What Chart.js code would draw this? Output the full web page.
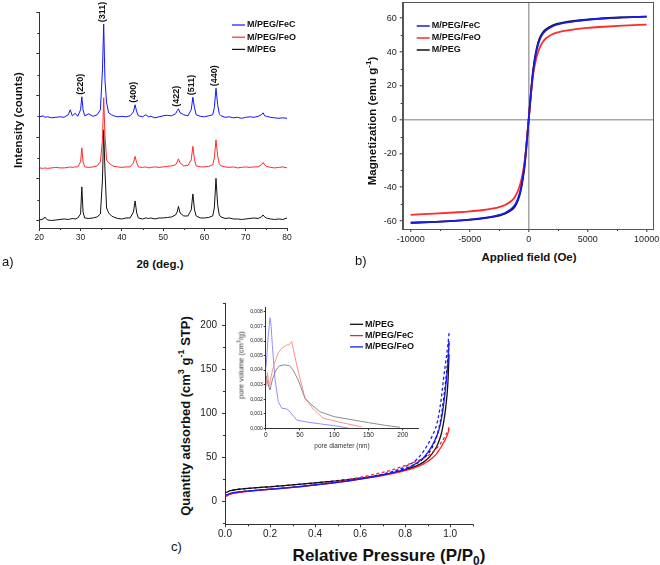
<!DOCTYPE html>
<html lang="en">
<head>
<meta charset="UTF-8" />
<title>XRD, VSM and N2 isotherms</title>
<script src="https://cdn.jsdelivr.net/npm/chart.js@4.4.1/dist/chart.umd.min.js"></script>
<style>
  body { margin: 0; background: #fff; font-family: "Liberation Sans", Arial, sans-serif; }
  #page { position: relative; width: 660px; height: 565px; overflow: hidden; background: #fff; }
  canvas { position: absolute; }
  .t { position: absolute; white-space: nowrap; font-weight: bold; color: #111; transform: translate(-50%, -50%); }
  .rot { transform: translate(-50%, -50%) rotate(-90deg); }
  .thin { font-weight: normal; color: #333; }
  .tag { position: absolute; font-size: 13px; color: #111; }
  sup, sub { font-size: 70%; line-height: 0; }
</style>
</head>
<body>
<div id="page">
  <canvas id="xrd" width="300" height="250" style="left:0;top:0"></canvas>
  <canvas id="vsm" width="330" height="250" style="left:330px;top:0"></canvas>
  <canvas id="pore" width="185" height="152" style="left:240px;top:300px;z-index:1"></canvas>
  <canvas id="bet" width="320" height="260" style="left:170px;top:290px;z-index:2"></canvas>

  <!-- axis titles / panel tags -->
  <div class="t rot" style="left:18px;top:120px;font-size:11.5px">Intensity (counts)</div>
  <div class="t" style="left:160px;top:264px;font-size:11.5px">2&theta; (deg.)</div>
  <div class="tag" style="left:2px;top:254px">a)</div>

  <div class="t rot" style="left:372px;top:121px;font-size:11.5px">Magnetization (emu g<sup>-1</sup>)</div>
  <div class="t" style="left:529px;top:257px;font-size:11.5px">Applied field (Oe)</div>
  <div class="tag" style="left:355px;top:253px">b)</div>

  <div class="t rot" style="left:185px;top:416px;font-size:13px">Quantity adsorbed (cm<sup>3</sup> g<sup>-1</sup> STP)</div>
  <div class="t" style="left:389px;top:556px;font-size:17px">Relative Pressure (P/P<sub>0</sub>)</div>
  <div class="tag" style="left:171px;top:539px">c)</div>

  <div class="t rot thin" style="left:241px;top:365px;font-size:7.5px;z-index:3">pore volume (cm<sup>3</sup>/g)</div>
  <div class="t thin" style="left:342px;top:445px;font-size:6.5px;z-index:3">pore diameter (nm)</div>
</div>

<script>
  // ---------- a) XRD patterns ----------
  const twoTheta = [20, 21, 21.3, 22, 23, 24, 25, 26, 27, 27.5, 28, 28.7, 29.3, 30, 30.3, 30.6, 31, 32, 33, 34,
    34.8, 35.3, 35.6, 35.9, 36.3, 36.8, 37.5, 38, 39, 40, 41, 42, 42.8, 43.2, 43.6, 44, 45, 45.8, 46.5, 47,
    48, 49, 50, 51, 52, 53, 53.4, 53.7, 54.1, 55, 56, 56.8, 57.2, 57.6, 58, 59, 60, 61, 62, 62.4,
    62.8, 63.2, 63.6, 64, 65, 66, 67, 68, 69, 70, 71, 72, 73, 73.8, 74.2, 74.6, 75, 76, 77, 78, 79, 80];
  const xrdFeC = [3489, 3513, 3477, 3489, 3465, 3477, 3489, 3477, 3537, 3657, 3513, 3573, 3501, 3657, 3969, 3657, 3513, 3561, 3501, 3537,
    3657, 4617, 5709, 4377, 3825, 3585, 3537, 3513, 3489, 3501, 3489, 3513, 3609, 3777, 3609, 3513, 3489, 3537, 3489, 3501,
    3465, 3489, 3513, 3525, 3513, 3561, 3633, 3681, 3585, 3537, 3513, 3657, 3957, 3705, 3537, 3501, 3489, 3513, 3537, 3705,
    4173, 3777, 3561, 3513, 3477, 3489, 3465, 3477, 3453, 3477, 3489, 3477, 3501, 3537, 3585, 3513, 3501, 3477, 3465, 3453, 3465, 3453];
  const xrdFeO = [2265, 2253, 2265, 2253, 2265, 2277, 2265, 2265, 2277, 2289, 2277, 2289, 2289, 2409, 2745, 2409, 2289, 2277, 2289, 2313,
    2409, 2937, 3945, 3057, 2457, 2385, 2337, 2301, 2289, 2277, 2289, 2289, 2385, 2541, 2385, 2289, 2277, 2289, 2265, 2277,
    2289, 2277, 2289, 2301, 2313, 2337, 2409, 2481, 2385, 2313, 2325, 2457, 2781, 2457, 2313, 2289, 2289, 2301, 2337, 2505,
    2937, 2553, 2361, 2313, 2289, 2277, 2289, 2265, 2277, 2289, 2277, 2289, 2289, 2337, 2397, 2337, 2301, 2277, 2265, 2277, 2289, 2265];
  const xrdPEG = [1017, 1041, 1089, 1017, 1005, 1017, 1029, 1041, 1029, 1041, 1053, 1041, 1065, 1161, 1809, 1209, 1065, 1053, 1065, 1089,
    1161, 1977, 3177, 2217, 1305, 1185, 1113, 1089, 1053, 1041, 1065, 1065, 1209, 1473, 1185, 1065, 1041, 1065, 1053, 1065,
    1041, 1065, 1065, 1077, 1089, 1137, 1209, 1341, 1185, 1113, 1113, 1257, 1641, 1257, 1113, 1065, 1065, 1077, 1113, 1305,
    2013, 1377, 1137, 1089, 1053, 1065, 1041, 1041, 1029, 1041, 1053, 1065, 1053, 1089, 1137, 1089, 1065, 1041, 1029, 1041, 1029, 1065];
  const peakPos = [30.3, 35.6, 43.2, 53.7, 57.2, 62.8];
  const peakLabels = ['(220)', '(311)', '(400)', '(422)', '(511)', '(440)'];
  const xrdNames = ['M/PEG/FeC', 'M/PEG/FeO', 'M/PEG'];
  const xrdColors = ['#1414ff', '#ff2a2a', '#111111'];
  const xrdXTicks = [20, 30, 40, 50, 60, 70, 80];
  const xrdYTicks = [1000, 2000, 3000, 4000, 5000, 6000];

  // ---------- b) magnetization ----------
  const field = [-10000, -8000, -6000, -5000, -4000, -3000, -2500, -2000, -1500, -1200, -1000, -800, -600, -400, -300, -200, -100,
    0, 100, 200, 300, 400, 600, 800, 1000, 1200, 1500, 2000, 2500, 3000, 4000, 5000, 6000, 8000, 10000];
  const magFeC = [-61.0, -60.5, -59.7, -59.1, -58.3, -57.2, -56.4, -55.2, -53.0, -50.8, -48.3, -44.5, -38.5, -29.5, -23.5, -16.0, -8.0,
    0, 8.0, 16.0, 23.5, 29.5, 38.5, 44.5, 48.3, 50.8, 53.0, 55.2, 56.4, 57.2, 58.3, 59.1, 59.7, 60.5, 61.0];
  const magFeO = [-56.3, -55.6, -54.8, -54.3, -53.6, -52.5, -51.7, -50.5, -48.3, -46.0, -43.5, -40.0, -35.0, -27.5, -22.0, -15.0, -7.5,
    0, 7.5, 15.0, 22.0, 27.5, 35.0, 40.0, 43.5, 46.0, 48.3, 50.5, 51.7, 52.5, 53.6, 54.3, 54.8, 55.6, 56.2];
  const magPEG = [-61.0, -60.5, -59.8, -59.2, -58.5, -57.5, -56.8, -55.7, -53.7, -51.6, -49.2, -45.5, -39.5, -30.5, -24.5, -17.0, -8.5,
    0, 8.5, 17.0, 24.5, 30.5, 39.5, 45.5, 49.2, 51.6, 53.7, 55.7, 56.8, 57.5, 58.5, 59.2, 59.8, 60.5, 61.0];
  const magNames = ['M/PEG/FeC', 'M/PEG/FeO', 'M/PEG'];
  const magColors = ['#1a1ae6', '#ff2a2a', '#111111'];
  const vsmXTicks = [-10000, -5000, 0, 5000, 10000];
  const vsmYTicks = [-60, -40, -20, 0, 20, 40, 60];

  // ---------- c) N2 isotherms (solid = adsorption, dashed = desorption) ----------
  const pAds = [0.005, 0.02, 0.05, 0.1, 0.15, 0.2, 0.3, 0.4, 0.5, 0.6, 0.7, 0.75, 0.8, 0.85, 0.88, 0.9, 0.92, 0.94, 0.95, 0.96, 0.97, 0.98, 0.99, 0.995];
  const adsPEG = [9.5, 11.5, 13, 14.3, 15.3, 16.2, 18.3, 20.6, 23, 25.8, 29.8, 32.2, 35.5, 40, 44, 48, 54, 62, 68, 76, 88, 106, 135, 167];
  const adsFeC = [5, 7.5, 9.3, 11, 12.2, 13.3, 15.5, 18.2, 21.2, 24.8, 29, 31.5, 34.5, 38.5, 42, 45, 49, 54, 57.5, 61.5, 66, 71, 77, 82];
  const adsFeO = [6.5, 8.5, 10, 11.3, 12.4, 13.4, 15.6, 18.3, 21.3, 25, 29.5, 32.5, 36, 43, 49, 55, 63, 74, 81, 92, 108, 130, 158, 182];
  const pDes = [0.995, 0.99, 0.98, 0.97, 0.96, 0.95, 0.94, 0.92, 0.9, 0.88, 0.85, 0.8, 0.75, 0.7, 0.6, 0.5, 0.4, 0.3, 0.2, 0.1, 0.05, 0.02];
  const desPEG = [180, 162, 136, 114, 96, 83, 73, 61, 53, 48, 42.5, 37, 33, 30, 26, 23.2, 20.8, 18.4, 16.3, 14.4, 13.1, 11.6];
  const desFeC = [84, 80, 75, 70.5, 66.5, 63, 60, 55, 51.5, 48.5, 45, 40.5, 36, 32.5, 27, 22.5, 18.6, 15.7, 13.4, 11.1, 9.4, 7.6];
  const desFeO = [191, 178, 158, 138, 116, 99, 87, 74, 64, 56, 47, 39, 34, 30.5, 25.5, 21.5, 18.4, 15.7, 13.5, 11.4, 10.1, 8.6];
  const betNames = ['M/PEG', 'M/PEG/FeC', 'M/PEG/FeO'];
  const betColors = ['#111111', '#ff2020', '#1a1aff'];
  const betXTicks = [0, 0.2, 0.4, 0.6, 0.8, 1.0];
  const betYTicks = [0, 50, 100, 150, 200];

  // ---------- inset: pore size distribution ----------
  const dPEG = [0.8, 3, 6.3, 10, 15, 20, 28, 35, 40, 47.5, 57.4, 65, 79, 100, 128, 150, 175, 196];
  const vPEG = [0.0036, 0.0031, 0.00263, 0.0034, 0.0040, 0.0043, 0.00436, 0.0043, 0.0040, 0.00332, 0.00206, 0.0017, 0.00114, 0.0008, 0.00057, 0.00039, 0.0002, 0.00007];
  const dFeC = [0.8, 2.5, 5, 10, 13.6, 18.4, 23.4, 30.7, 34, 38, 45.3, 57.4, 70, 84, 110, 140];
  const vFeC = [0.0029, 0.00385, 0.0029, 0.0040, 0.00458, 0.0052, 0.0055, 0.00573, 0.00572, 0.00597, 0.00435, 0.00206, 0.0013, 0.00069, 0.0004, 0.0001];
  const dFeO = [0.5, 4, 6.3, 8, 9.7, 13.6, 18.4, 23.4, 30.7, 35.5, 45.3, 60, 80, 100, 120];
  const vFeO = [0.0042, 0.0065, 0.0076, 0.0070, 0.0057, 0.0034, 0.00183, 0.00138, 0.00133, 0.00114, 0.00057, 0.00043, 0.0003, 0.00018, 0.00002];
  const poreColors = ['#8c8c8c', '#ff9090', '#9090ff'];
  const poreXTicks = [0, 50, 100, 150, 200];
  const poreYTicks = [0, 0.001, 0.002, 0.003, 0.004, 0.005, 0.006, 0.007, 0.008];
</script>

<script>
  Chart.defaults.font.family = '"Liberation Sans", Arial, sans-serif';
  Chart.defaults.color = '#222';

  const pts = (xs, ys) => xs.map((x, i) => ({ x: x, y: ys[i] }));

  // fixed axis box so the plot areas land where the figure has them
  function fixSize(px) {
    return function (s) {
      if (s.isHorizontal()) s.height = px; else s.width = px;
      s.paddingTop = s.paddingBottom = s.paddingLeft = s.paddingRight = 0;
    };
  }
  // put the major ticks exactly on the listed values
  const useTicks = vals => s => { s.ticks = vals.map(v => ({ value: v })); };

  // small unlabeled ticks between the major ones
  const minorTicks = {
    id: 'minorTicks',
    afterDatasetsDraw(chart, args, o) {
      if (!o.x && !o.y) return;
      const ctx = chart.ctx;
      ctx.save();
      ctx.strokeStyle = o.color || '#333';
      ctx.lineWidth = 1;
      ['x', 'y'].forEach(id => {
        const step = o[id];
        if (!step) return;
        const s = chart.scales[id];
        const majors = s.ticks.map(t => t.value);
        const n0 = Math.ceil(s.min / step), n1 = Math.floor(s.max / step);
        for (let n = n0; n <= n1; n++) {
          const v = n * step;
          if (majors.some(m => Math.abs(m - v) < step / 100)) continue;
          const p = Math.round(s.getPixelForValue(v)) + 0.5;
          ctx.beginPath();
          if (id === 'x') { ctx.moveTo(p, s.top); ctx.lineTo(p, s.top + (o.len || 2)); }
          else { ctx.moveTo(s.right, p); ctx.lineTo(s.right - (o.len || 2), p); }
          ctx.stroke();
        }
      });
      ctx.restore();
    }
  };

  // box around the plot area
  const frame = {
    id: 'frame',
    afterDatasetsDraw(chart, args, o) {
      if (!o.color) return;
      const a = chart.chartArea, ctx = chart.ctx;
      ctx.save();
      ctx.strokeStyle = o.color;
      ctx.lineWidth = 1;
      ctx.strokeRect(Math.round(a.left) + 0.5, Math.round(a.top) + 0.5, Math.round(a.right - a.left), Math.round(a.bottom - a.top));
      ctx.restore();
    }
  };

  // legend drawn at a fixed spot inside the plot
  const keyBox = {
    id: 'keyBox',
    afterDatasetsDraw(chart, args, o) {
      if (!o.labels) return;
      const ctx = chart.ctx;
      ctx.save();
      ctx.font = 'bold 9px "Liberation Sans", Arial, sans-serif';
      ctx.textBaseline = 'middle';
      o.labels.forEach((t, i) => {
        const yy = o.y + i * o.gap;
        ctx.strokeStyle = o.colors[i];
        ctx.lineWidth = o.width || 1.2;
        ctx.beginPath(); ctx.moveTo(o.x, yy); ctx.lineTo(o.x + o.len, yy); ctx.stroke();
        ctx.fillStyle = '#111';
        ctx.fillText(t, o.x + o.len + 2, yy);
      });
      ctx.restore();
    }
  };

  Chart.register(minorTicks, frame, keyBox);

  // hkl labels above the top pattern
  const peakTags = {
    id: 'peakTags',
    afterDatasetsDraw(chart) {
      const { ctx, scales: { x, y } } = chart;
      ctx.save();
      ctx.font = 'bold 9px "Liberation Sans", Arial, sans-serif';
      ctx.fillStyle = '#111';
      ctx.textAlign = 'left';
      ctx.textBaseline = 'middle';
      peakPos.forEach((p, i) => {
        const k = twoTheta.indexOf(p);
        ctx.save();
        ctx.translate(x.getPixelForValue(p) - 1.5, y.getPixelForValue(xrdFeC[k]) - 2);
        ctx.rotate(-Math.PI / 2);
        ctx.fillText(peakLabels[i], 0, 0);
        ctx.restore();
      });
      ctx.restore();
    }
  };

  const axisGrid = (len) => ({ drawOnChartArea: false, tickLength: len, color: '#333' });
  const noTips = { legend: { display: false }, tooltip: { enabled: false } };

  // ---- a) ----
  new Chart(document.getElementById('xrd'), {
    type: 'line',
    data: {
      datasets: [xrdFeC, xrdFeO, xrdPEG].map((ys, i) => ({
        label: xrdNames[i], data: pts(twoTheta, ys), borderColor: xrdColors[i], borderWidth: 1
      }))
    },
    options: {
      responsive: false, animation: false,
      layout: { padding: { top: 12, right: 13, left: 0, bottom: 0 } },
      elements: { point: { radius: 0 }, line: { tension: 0 } },
      plugins: Object.assign({}, noTips, {
        minorTicks: { x: 5, y: 500 },
        keyBox: { x: 232, y: 25, gap: 12.2, len: 13, labels: xrdNames, colors: xrdColors }
      }),
      scales: {
        x: {
          type: 'linear', min: 20, max: 80, afterFit: fixSize(22), afterBuildTicks: useTicks(xrdXTicks),
          grid: axisGrid(3), border: { color: '#333' },
          ticks: { font: { size: 8.5 }, padding: 2, maxRotation: 0, autoSkip: false }
        },
        y: {
          min: 825, max: 6000, afterFit: fixSize(39.3), afterBuildTicks: useTicks(xrdYTicks),
          grid: axisGrid(3), border: { color: '#333' },
          ticks: { display: false }
        }
      }
    },
    plugins: [peakTags]
  });

  // ---- b) ----
  const zeroLine = c => (c.tick && c.tick.value === 0) ? '#a8a8a8' : 'rgba(0,0,0,0)';
  new Chart(document.getElementById('vsm'), {
    type: 'line',
    data: {
      datasets: [magFeC, magFeO, magPEG].map((ys, i) => ({
        label: magNames[i], data: pts(field, ys), borderColor: magColors[i], borderWidth: 1.8,
        cubicInterpolationMode: 'monotone'
      }))
    },
    options: {
      responsive: false, animation: false,
      layout: { padding: { top: 2, right: 7, left: 0, bottom: 0 } },
      elements: { point: { radius: 0 } },
      plugins: Object.assign({}, noTips, {
        minorTicks: { x: 2500, y: 10 },
        frame: { color: '#555' },
        keyBox: { x: 86.7, y: 26, gap: 12, len: 13, width: 1.5, labels: magNames, colors: magColors }
      }),
      scales: {
        x: {
          type: 'linear', min: -10680, max: 10540, afterFit: fixSize(21), afterBuildTicks: useTicks(vsmXTicks),
          grid: { color: zeroLine, lineWidth: 1.6, tickColor: '#333', tickWidth: 1, tickLength: 3 },
          border: { color: '#555' },
          ticks: { font: { size: 9 }, padding: 2, maxRotation: 0, autoSkip: false, callback: v => String(v) }
        },
        y: {
          min: -64.7, max: 69.6, afterFit: fixSize(72.7), afterBuildTicks: useTicks(vsmYTicks),
          grid: { color: zeroLine, lineWidth: 1.6, tickColor: '#333', tickWidth: 1, tickLength: 3 },
          border: { color: '#555' },
          ticks: { font: { size: 9 }, padding: 3, autoSkip: false, callback: v => String(v) }
        }
      }
    }
  });

  // ---- c) ----
  const solid = [adsPEG, adsFeC, adsFeO].map((ys, i) => ({
    label: betNames[i], data: pts(pAds, ys), borderColor: betColors[i], borderWidth: 1.3,
    cubicInterpolationMode: 'monotone', order: 3 - i
  }));
  const dashed = [desPEG, desFeC, desFeO].map((ys, i) => ({
    label: betNames[i] + ' (des.)', data: pts(pDes, ys), borderColor: betColors[i], borderWidth: 1.3,
    borderDash: [3, 2.5], cubicInterpolationMode: 'monotone', order: 3 - i
  }));
  new Chart(document.getElementById('bet'), {
    type: 'line',
    data: { datasets: solid.concat(dashed) },
    options: {
      responsive: false, animation: false,
      layout: { padding: { top: 13.3, right: 17.3, left: 0, bottom: 0 } },
      elements: { point: { radius: 0 } },
      plugins: Object.assign({}, noTips, {
        minorTicks: { x: 0.1, y: 25 },
        keyBox: { x: 180, y: 34.3, gap: 11.3, len: 13, width: 1.3, labels: betNames, colors: betColors }
      }),
      scales: {
        x: {
          type: 'linear', min: 0, max: 1.1, afterFit: fixSize(25.7), afterBuildTicks: useTicks(betXTicks),
          grid: axisGrid(3), border: { color: '#333' },
          ticks: { font: { size: 10 }, padding: 1, maxRotation: 0, autoSkip: false, callback: v => v.toFixed(1) }
        },
        y: {
          min: -26.5, max: 225, afterFit: fixSize(55), afterBuildTicks: useTicks(betYTicks),
          grid: axisGrid(3), border: { color: '#333' },
          ticks: { font: { size: 10 }, padding: 5, autoSkip: false }
        }
      }
    }
  });

  // ---- inset ----
  new Chart(document.getElementById('pore'), {
    type: 'line',
    data: {
      datasets: [pts(dPEG, vPEG), pts(dFeC, vFeC), pts(dFeO, vFeO)].map((d, i) => ({
        label: betNames[i], data: d, borderColor: poreColors[i], borderWidth: 1
      }))
    },
    options: {
      responsive: false, animation: false,
      layout: { padding: { top: 7, right: 6.7, left: 0, bottom: 0 } },
      elements: { point: { radius: 0 }, line: { tension: 0 } },
      plugins: noTips,
      scales: {
        x: {
          type: 'linear', min: 0, max: 222.8, afterFit: fixSize(23.7), afterBuildTicks: useTicks(poreXTicks),
          grid: axisGrid(2), border: { color: '#333' },
          ticks: { font: { size: 6.5 }, padding: 1, maxRotation: 0, autoSkip: false }
        },
        y: {
          min: 0, max: 0.00834, afterFit: fixSize(25.7), afterBuildTicks: useTicks(poreYTicks),
          grid: axisGrid(2), border: { color: '#333' },
          ticks: { font: { size: 5 }, padding: 1, autoSkip: false, callback: v => v.toFixed(3).replace('.', ',') }
        }
      }
    }
  });
</script>
</body>
</html>
